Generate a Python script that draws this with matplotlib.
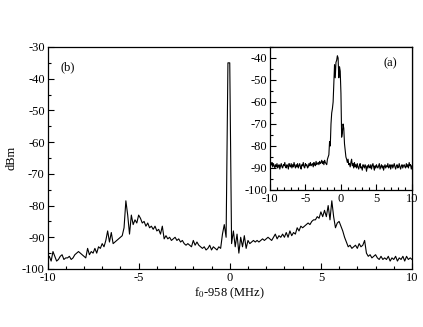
import numpy as np
import matplotlib
matplotlib.use('Agg')
import matplotlib.pyplot as plt
from matplotlib.ticker import MultipleLocator

# Espectro principal (b): f0-958 de -10 a 10 MHz, passo 0.1
espectro_b = [
    -97, -96, -97.5, -94.5, -96, -97.5, -97, -96, -95.5, -97,
    -96.5, -96.5, -96, -97, -96.5, -95.5, -95, -94.5, -95, -95.5,
    -96, -96.5, -93.5, -95.5, -94.5, -95, -93.5, -95, -93, -93.5,
    -92, -93, -91, -88, -91.5, -88.5, -92, -91.5, -91, -90.5,
    -90, -89.5, -87, -78.5, -83, -89, -83, -86, -84.5, -85.5,
    -83, -84, -85.5, -85, -86.5, -85.5, -87, -86.5, -87.5, -86.5,
    -88, -87.5, -89, -86.5, -90.5, -89.5, -90.5, -90, -91, -90.5,
    -90, -91, -90.5, -91.5, -91, -92, -92.5, -92, -92.5, -93,
    -91, -92.5, -91.5, -92.5, -93, -93.5, -93, -94, -93.5, -92.5,
    -94, -93, -93.5, -94, -93, -93.5, -89, -86, -90, -35,
    -35, -92, -88, -93, -89, -95, -90, -93, -89.5, -93.5,
    -91, -92, -91.5, -91, -91.5, -91, -91.5, -91, -90.5, -91,
    -90.5, -90, -90.5, -91, -90, -89, -90.5, -89.5, -90, -89,
    -90, -88.5, -90, -88, -89.5, -88.5, -89, -87, -88, -86.5,
    -87, -86.5, -86, -85.5, -86, -85, -84.5, -84.5, -83.5, -84,
    -82, -83.5, -81.5, -83.5, -80, -84.5, -78.5, -83.5, -87, -85.5,
    -85, -86.5, -88, -90, -91.5, -93, -92.5, -93.5, -93, -92.5,
    -93.5, -92, -93, -92.5, -91, -95, -96, -95.5, -96.5, -96,
    -95.5, -96.5, -97, -96, -97, -96.5, -97, -96, -97.5, -96.5,
    -97, -96, -97.5, -96.5, -97, -96, -97.5, -96, -97, -96.5,
    -97,
]

# Espectro do detalhe (a), mesmo passo de 0.1 MHz
espectro_a = [
    # -10.0 a -2.1
    -88, -89, -88.5, -87.5, -89.5, -88, -89, -90, -88.5, -89.5,
    -88, -90, -89, -88.5, -90.5, -89, -88, -89.5, -90, -88.5,
    -89, -87.5, -89.5, -90, -88.5, -89, -90.5, -88, -89, -89.5,
    -88, -90, -88.5, -89.5, -87.5, -89, -90, -88.5, -89.5, -88,
    -90, -89, -88, -89.5, -90.5, -88.5, -89, -87.5, -89.5, -90,
    -88, -89, -88.5, -90, -89.5, -88, -89, -87.5, -89, -88.5,
    -88, -89.5, -87.5, -88.5, -89, -87, -88.5, -88, -87.5, -88.5,
    -87, -88, -87.5, -86.5, -88, -87, -88.5, -86.5, -87.5, -88,
    # -2.0 a 1.1 (pico)
    -88.5, -86, -85, -84, -78, -80, -70, -65, -63, -60,
    -52, -43, -49, -42, -41, -39, -40, -49, -44, -46,
    -56, -76, -74, -70, -72, -79, -82, -85, -86, -87.5,
    -86, -88.5,
    # 1.2 a 10.0
    -88, -89.5, -87.5, -86, -89, -88, -90, -87.5, -89.5, -88.5,
    -90, -88, -89.5, -90.5, -89, -88, -90, -89.5, -91, -88.5,
    -89, -90, -88.5, -89.5, -91.5, -89, -90, -88.5, -89.5, -90,
    -88.5, -90.5, -89, -88, -89.5, -91, -89, -90, -88.5, -89.5,
    -90, -89, -88, -90.5, -89.5, -88.5, -90, -89, -91, -89.5,
    -88.5, -90, -89, -89.5, -88, -90, -89.5, -88.5, -90.5, -89,
    -88.5, -90, -89, -88, -89.5, -90.5, -89, -88.5, -90, -89.5,
    -88, -89.5, -90.5, -89, -88.5, -90, -89, -88.5, -89.5, -90,
    -88, -89.5, -88.5, -90, -87.5, -89, -88.5, -90.5, -89,
]

freq_b = np.linspace(-10, 10, len(espectro_b))
freq_a = np.linspace(-10, 10, len(espectro_a))

plt.rcParams['font.family'] = ['Liberation Serif', 'DejaVu Serif']
plt.rcParams['font.size'] = 9
plt.rcParams['mathtext.fontset'] = 'stix'
plt.rcParams['axes.unicode_minus'] = False


def estilo_eixos(ax):
    ax.tick_params(which='both', direction='in', top=False, right=False, labelsize=9)
    ax.tick_params(which='major', length=4.5, width=0.8, pad=2)
    ax.tick_params(which='minor', length=2, width=0.8)
    for s in ax.spines.values():
        s.set_linewidth(0.9)


fig = plt.figure(figsize=(4.23, 3.27), dpi=100)

# Eixo principal (b)
ax = fig.add_axes([0.1123, 0.1774, 0.8617, 0.6789])
ax.plot(freq_b, espectro_b, color='black', linewidth=0.8)
ax.set_xlim(-10, 10)
ax.set_ylim(-100, -30)
ax.xaxis.set_major_locator(MultipleLocator(5))
ax.xaxis.set_minor_locator(MultipleLocator(1))
ax.yaxis.set_major_locator(MultipleLocator(10))
ax.yaxis.set_minor_locator(MultipleLocator(5))
estilo_eixos(ax)
ax.set_xlabel(r'f$_0$-958 (MHz)', labelpad=1)
ax.set_ylabel('dBm', labelpad=3)
ax.text(-8.9, -36.3, '(b)', ha='center', va='center', fontsize=9)

# Detalhe (a)
axi = fig.add_axes([0.638, 0.419, 0.336, 0.4373])
axi.plot(freq_a, espectro_a, color='black', linewidth=0.8)
axi.set_xlim(-10, 10)
axi.set_ylim(-100, -35)
axi.xaxis.set_major_locator(MultipleLocator(5))
axi.xaxis.set_minor_locator(MultipleLocator(1))
axi.yaxis.set_major_locator(MultipleLocator(10))
axi.yaxis.set_minor_locator(MultipleLocator(5))
estilo_eixos(axi)
axi.text(6.9, -42.4, '(a)', ha='center', va='center', fontsize=9)

plt.savefig('out.png', dpi=100)
plt.close()
